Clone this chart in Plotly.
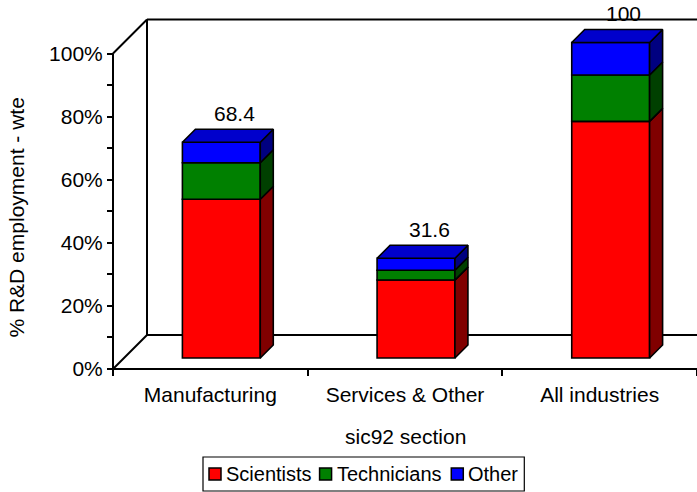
import plotly.graph_objects as go

# ---- data -------------------------------------------------------------
categories = ["Manufacturing", "Services & Other", "All industries"]
scientists = [50.3, 24.7, 75.0]
technicians = [11.6, 3.1, 14.7]
other = [6.5, 3.8, 10.3]
totals = [68.4, 31.6, 100]
series_names = ["Scientists", "Technicians", "Other"]
y_tick_values = [0, 20, 40, 60, 80, 100]
y_tick_labels = ["0%", "20%", "40%", "60%", "80%", "100%"]
y_minor_values = [10, 30, 50, 70, 90]

# ---- styling ----------------------------------------------------------
front_colors = ["#FF0000", "#008000", "#0000FF"]
side_colors = ["#800000", "#004000", "#000080"]
top_colors = ["#CC0000", "#006600", "#0000CC"]
FONT = "Liberation Sans, Arial, sans-serif"
FS = 21
LEGEND_FS = 20

# ---- geometry of the oblique (pseudo 3-D) projection -------------------
W, H = 697, 492
M_L, M_R, M_T, M_B = 100, 0, 0, 123
PAD_L = 13                      # room left of the front value axis
plot_w = W - M_L - M_R
plot_h = H - M_T - M_B
PX_CAT = (plot_w - PAD_L) / len(categories)
PX_PCT = 3.155
X0 = -0.5 - PAD_L / PX_CAT
X1 = X0 + plot_w / PX_CAT
Y_TOP = plot_h / PX_PCT


def depth(px):
    """Oblique depth offset in (category units, percent units)."""
    return px / PX_CAT, px / PX_PCT


def paper_x(px):
    return (px - M_L) / plot_w


def paper_y(py):
    return (plot_h + M_T - py) / plot_h


WALL_DX, WALL_DY = depth(34)
FRONT_DX, FRONT_DY = depth(11)
BACK_DX, BACK_DY = depth(24)
SIDE_DX, SIDE_DY = BACK_DX - FRONT_DX, BACK_DY - FRONT_DY
BAR_W = 0.4

series = [scientists, technicians, other]
xs = list(range(len(categories)))

fig = go.Figure()

# front faces of the stacked bars
bases = [0.0] * len(categories)
segments = []
for name, vals, fc in zip(series_names, series, front_colors):
    fig.add_trace(go.Bar(
        x=xs, y=vals, base=[b + FRONT_DY for b in bases],
        width=BAR_W, offset=FRONT_DX - BAR_W / 2,
        marker=dict(color=fc, line=dict(color="black", width=1.6)),
        name=name, hoverinfo="skip", showlegend=False,
    ))
    segments.append([(b, b + v) for b, v in zip(bases, vals)])
    bases = [b + v for b, v in zip(bases, vals)]

# right-hand side faces
for k, segs in enumerate(segments):
    px, py = [], []
    for i, (b0, b1) in enumerate(segs):
        xr = i + FRONT_DX + BAR_W / 2
        px += [xr, xr + SIDE_DX, xr + SIDE_DX, xr, xr, None]
        py += [b0 + FRONT_DY, b0 + BACK_DY, b1 + BACK_DY, b1 + FRONT_DY,
               b0 + FRONT_DY, None]
    fig.add_trace(go.Scatter(
        x=px, y=py, mode="lines", fill="toself", fillcolor=side_colors[k],
        line=dict(color="black", width=1.6), showlegend=False,
        hoverinfo="skip",
    ))

# top faces, coloured from the uppermost segment
for i, top in enumerate(bases):
    k = max(j for j in range(len(series)) if series[j][i] > 0)
    xl = i + FRONT_DX - BAR_W / 2
    xr = xl + BAR_W
    fig.add_trace(go.Scatter(
        x=[xl, xr, xr + SIDE_DX, xl + SIDE_DX, xl],
        y=[top + FRONT_DY, top + FRONT_DY, top + BACK_DY, top + BACK_DY,
           top + FRONT_DY],
        mode="lines", fill="toself", fillcolor=top_colors[k],
        line=dict(color="black", width=1.6), showlegend=False,
        hoverinfo="skip",
    ))

# total labels above each bar
for i, t in enumerate(totals):
    fig.add_annotation(
        x=i + BACK_DX, y=t + BACK_DY, text=f"{t:g}", showarrow=False,
        xanchor="center", yanchor="bottom", yshift=2,
        font=dict(family=FONT, size=FS, color="black"),
    )

# walls and floor edges of the 3-D box
xl = -0.5
xe = len(categories) - 0.5
frame = [
    (xl, 0, xl, 100),                                   # front value axis
    (xl, 0, xl + WALL_DX, WALL_DY),                     # floor diagonal
    (xl, 100, xl + WALL_DX, 100 + WALL_DY),             # top diagonal
    (xl + WALL_DX, WALL_DY, xl + WALL_DX, 100 + WALL_DY),  # back wall edge
    (xl + WALL_DX, WALL_DY, xe + WALL_DX, WALL_DY),     # back floor edge
    (xl + WALL_DX, 100 + WALL_DY, xe + WALL_DX, 100 + WALL_DY),  # wall top
]
for x0, y0, x1, y1 in frame:
    fig.add_shape(type="line", x0=x0, y0=y0, x1=x1, y1=y1, xref="x",
                  yref="y", layer="below",
                  line=dict(color="black", width=2))

# front category axis along the floor front edge
fig.add_shape(type="line", xref="x", yref="paper", x0=-0.5, x1=X1,
              y0=0, y1=0, line=dict(color="black", width=2))

# axis titles
fig.add_annotation(
    xref="paper", yref="y", x=paper_x(17), y=48, xanchor="center",
    yanchor="middle", text="% R&D employment - wte", textangle=-90,
    showarrow=False, font=dict(family=FONT, size=FS, color="black"),
)
fig.add_annotation(
    xref="paper", yref="paper", x=paper_x(405), y=paper_y(436),
    xanchor="center", yanchor="middle", text="sic92 section",
    showarrow=False, font=dict(family=FONT, size=FS, color="black"),
)

# legend box: keys and labels laid out with Arial advance widths
ARIAL_W = {"S": .667, "c": .5, "i": .222, "e": .556, "n": .556, "t": .278,
           "s": .5, "T": .611, "h": .556, "a": .556, "O": .778, "r": .333}
LEG_LEFT, LEG_TOP, LEG_BOTTOM = 203, 457, 491
KEY, PAD, KEY_GAP, ITEM_GAP = 12, 6, 5, 8
mid = (LEG_TOP + LEG_BOTTOM) / 2
cursor = LEG_LEFT + PAD
for name, fc in zip(series_names, front_colors):
    fig.add_shape(type="rect", xref="paper", yref="paper",
                  x0=paper_x(cursor), x1=paper_x(cursor + KEY),
                  y0=paper_y(mid + KEY / 2), y1=paper_y(mid - KEY / 2),
                  fillcolor=fc, line=dict(color="black", width=1.5))
    cursor += KEY + KEY_GAP
    fig.add_annotation(
        xref="paper", yref="paper", x=paper_x(cursor - 1), y=paper_y(mid),
        xanchor="left", yanchor="middle", text=name, showarrow=False,
        borderpad=0, font=dict(family=FONT, size=LEGEND_FS, color="black"),
    )
    cursor += sum(ARIAL_W[c] for c in name) * LEGEND_FS + ITEM_GAP
legend_right = cursor - ITEM_GAP + PAD
fig.add_shape(type="rect", xref="paper", yref="paper",
              x0=paper_x(LEG_LEFT), x1=paper_x(legend_right),
              y0=paper_y(LEG_BOTTOM), y1=paper_y(LEG_TOP),
              line=dict(color="black", width=1.2), layer="below")

fig.update_layout(
    width=W, height=H,
    margin=dict(l=M_L, r=M_R, t=M_T, b=M_B),
    paper_bgcolor="white", plot_bgcolor="white",
    barmode="overlay", showlegend=False,
    font=dict(family=FONT, size=FS, color="black"),
    xaxis=dict(
        range=[X0, X1], showgrid=False, zeroline=False, showline=False,
        tickvals=xs, ticktext=categories, ticks="",
        ticklabelstandoff=11,
        minor=dict(tickvals=[-0.5, 0.5, 1.5, 2.5], ticks="outside",
                   ticklen=6, tickwidth=2, tickcolor="black",
                   showgrid=False),
        tickfont=dict(family=FONT, size=FS, color="black"),
    ),
    yaxis=dict(
        range=[0, Y_TOP], showgrid=False, zeroline=False, showline=False,
        anchor="free", position=PAD_L / plot_w,
        tickvals=y_tick_values, ticktext=y_tick_labels,
        ticks="outside", ticklen=6, tickwidth=2, tickcolor="black",
        minor=dict(tickvals=y_minor_values, ticks="outside", ticklen=6,
                   tickwidth=2, tickcolor="black", showgrid=False),
        tickfont=dict(family=FONT, size=FS, color="black"),
    ),
)

fig.write_html("out.html")
